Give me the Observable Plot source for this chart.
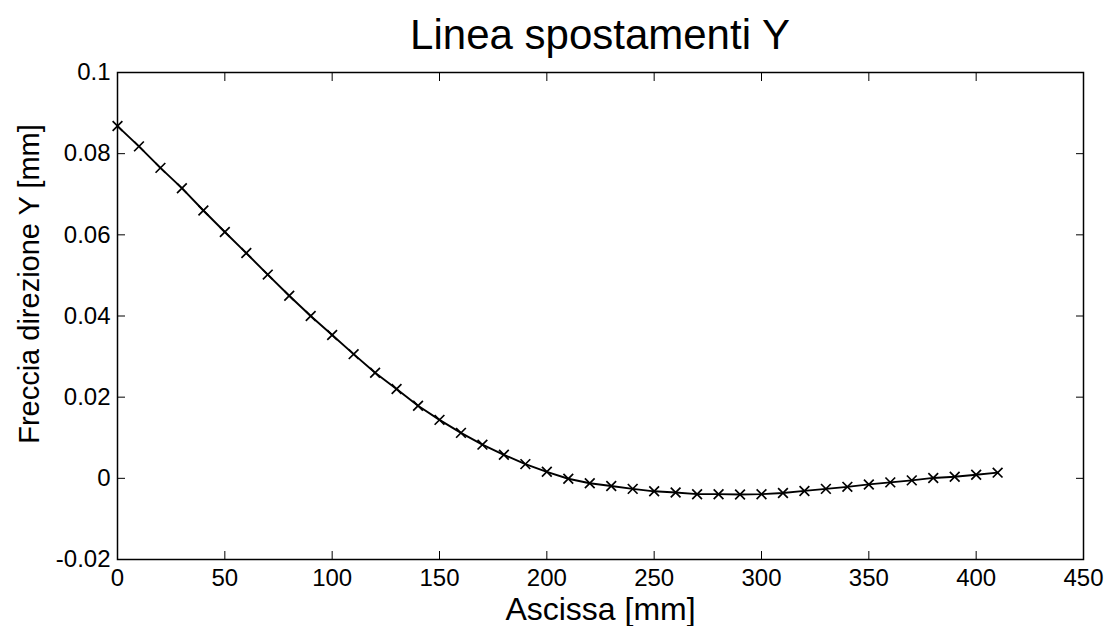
<!DOCTYPE html>
<html>
<head>
<meta charset="utf-8">
<script src="https://cdn.jsdelivr.net/npm/d3@7"></script>
<script src="https://cdn.jsdelivr.net/npm/@observablehq/plot@0.6"></script>
<style>
  html, body { margin: 0; padding: 0; background: #fff; }
  #title {
    height: 52px; box-sizing: border-box;
    padding: 17px 26px 0 117px;
    font-family: "Liberation Sans", Arial, sans-serif;
    font-size: 42px; line-height: 35px; text-align: center; color: #000;
  }
  #chart svg { display: block; }
</style>
</head>
<body>
<div id="title">Linea spostamenti Y</div>
<div id="chart"></div>
<script>
const titleText = "Linea spostamenti Y";
const xLabel = "Ascissa [mm]";
const yLabel = "Freccia direzione Y [mm]";

const xValues = [0, 10, 20, 30, 40, 50, 60, 70, 80, 90,
  100, 110, 120, 130, 140, 150, 160, 170, 180, 190,
  200, 210, 220, 230, 240, 250, 260, 270, 280, 290,
  300, 310, 320, 330, 340, 350, 360, 370, 380, 390, 400, 410];
const yValues = [0.0868, 0.0818, 0.0765, 0.0715, 0.0660, 0.0607, 0.0555, 0.0502, 0.0450, 0.0400,
  0.0353, 0.0306, 0.0260, 0.0220, 0.0179, 0.0144, 0.0112, 0.0083, 0.0058, 0.0035,
  0.0016, -0.0001, -0.0012, -0.0019, -0.0026, -0.0032, -0.0035, -0.0039, -0.0039, -0.0040,
  -0.0039, -0.0036, -0.0031, -0.0026, -0.0021, -0.0015, -0.0010, -0.0005, 0.0001, 0.0004, 0.0009, 0.0014];

const xTicks = [0, 50, 100, 150, 200, 250, 300, 350, 400, 450];
const yTicks = [-0.02, 0, 0.02, 0.04, 0.06, 0.08, 0.1];

const data = xValues.map((x, i) => ({x, y: yValues[i]}));
const fmtY = d => d === 0 ? "0" : String(+d.toFixed(2));
const blank = () => "";

const chart = Plot.plot({
  width: 1109,
  height: 574,
  marginTop: 20,
  marginBottom: 67,
  marginLeft: 117,
  marginRight: 26,
  style: {fontFamily: "'Liberation Sans', Arial, sans-serif", fontSize: "24px", color: "black", background: "transparent"},
  x: {domain: [0, 450]},
  y: {domain: [-0.02, 0.1]},
  marks: [
    Plot.axisX({anchor: "bottom", ticks: xTicks, tickSize: -8, tickPadding: 17.5, tickFormat: d => String(d), fontSize: 24, label: null}),
    Plot.axisX({anchor: "top", ticks: xTicks, tickSize: -8, tickFormat: blank, label: null}),
    Plot.axisY({anchor: "left", ticks: yTicks, tickSize: -8, tickPadding: 15, tickFormat: fmtY, fontSize: 24, label: null}),
    Plot.axisY({anchor: "right", ticks: yTicks, tickSize: -8, tickFormat: blank, label: null}),
    Plot.frame({stroke: "black", strokeWidth: 1.5}),
    Plot.line(data, {x: "x", y: "y", stroke: "black", strokeWidth: 1.9}),
    Plot.dot(data, {x: "x", y: "y", symbol: "times", r: 4.5, stroke: "black", strokeWidth: 1.7}),
    Plot.text([xLabel], {text: d => d, frameAnchor: "bottom", lineAnchor: "top", dy: 37.5, fontSize: 32, fill: "black"}),
    Plot.text([yLabel], {text: d => d, frameAnchor: "left", rotate: -90, textAnchor: "middle", lineAnchor: "middle", dx: -88, dy: -32, fontSize: 29, fill: "black"})
  ]
});
document.getElementById("chart").appendChild(chart);
</script>
</body>
</html>
